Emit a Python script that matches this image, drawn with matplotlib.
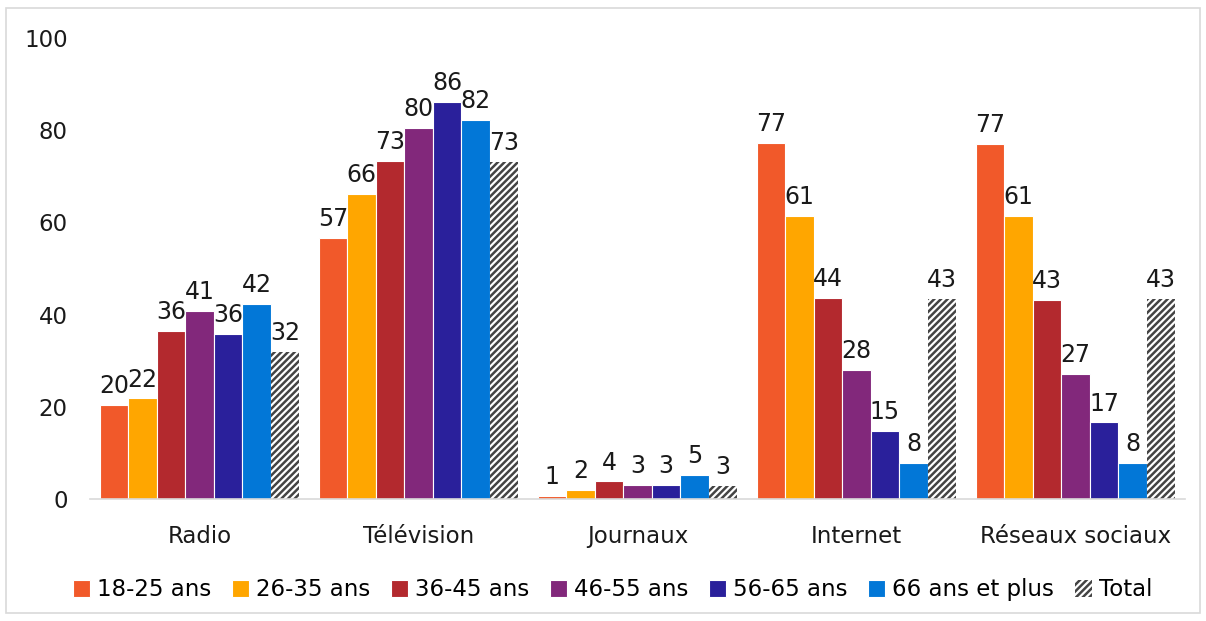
import matplotlib.pyplot as plt
import numpy as np
from matplotlib.patches import Rectangle

# -------------------------------------------------
# Data
# -------------------------------------------------
categories = ["Radio", "Télévision", "Journaux", "Internet", "Réseaux sociaux"]
series_names = ["18-25 ans", "26-35 ans", "36-45 ans", "46-55 ans",
                "56-65 ans", "66 ans et plus", "Total"]

age_18_25 = [20.3, 56.7, 0.6, 77.2, 77.0]
age_26_35 = [21.8, 66.2, 1.9, 61.4, 61.4]
age_36_45 = [36.4, 73.4, 3.8, 43.6, 43.2]
age_46_55 = [40.8, 80.4, 3.1, 28.0, 27.1]
age_56_65 = [35.7, 86.1, 3.1, 14.8, 16.6]
age_66_plus = [42.4, 82.2, 5.2, 7.8, 7.8]
total = [31.9, 73.1, 2.8, 43.4, 43.4]

values = [age_18_25, age_26_35, age_36_45, age_46_55, age_56_65, age_66_plus, total]
colors = ["#F1592A", "#FFA600", "#B3292E", "#82287B", "#2A209B", "#0277D7", "white"]

# -------------------------------------------------
# Plot
# -------------------------------------------------
plt.rcParams["font.family"] = ["DejaVu Sans"]
plt.rcParams["hatch.linewidth"] = 1.8

fig = plt.figure(figsize=(12.06, 6.21), dpi=100)
ax = fig.add_axes([0.0746, 0.1965, 0.908, 0.7423])

x = np.arange(len(categories))
width = 0.13

for i, (name, vals, col) in enumerate(zip(series_names, values, colors)):
    pos = x + (i - 3) * width
    if name == "Total":
        bars = ax.bar(pos, vals, width, color="white", edgecolor="#444444",
                      hatch="/////", linewidth=0, label=name)
    else:
        bars = ax.bar(pos, vals, width, color=col, edgecolor="white",
                      linewidth=0.8, label=name)
    ax.bar_label(bars, fmt="%.0f", padding=5, fontsize=17, color="#1a1a1a")

ax.set_xlim(-0.5, len(categories) - 0.5)
ax.set_ylim(0, 100)
ax.set_yticks([0, 20, 40, 60, 80, 100])
ax.set_xticks(x)
ax.set_xticklabels(categories)
ax.tick_params(axis="both", length=0, labelsize=16.5, colors="#1a1a1a")
ax.tick_params(axis="x", pad=19)
ax.tick_params(axis="y", pad=16)

for side in ["top", "right", "left"]:
    ax.spines[side].set_visible(False)
ax.spines["bottom"].set_color("#d9d9d9")
ax.spines["bottom"].set_linewidth(1.2)

fig.legend(loc="center", bbox_to_anchor=(0.508, 0.05), ncol=7, frameon=False,
           fontsize=16.5, handlelength=0.75, handleheight=0.75,
           handletextpad=0.3, columnspacing=0.9)

# light frame around the chart
fig.patches.append(Rectangle((0.005, 0.013), 0.99, 0.974, transform=fig.transFigure,
                             fill=False, edgecolor="#d9d9d9", linewidth=1.2))

fig.savefig("out.png", dpi=100)
